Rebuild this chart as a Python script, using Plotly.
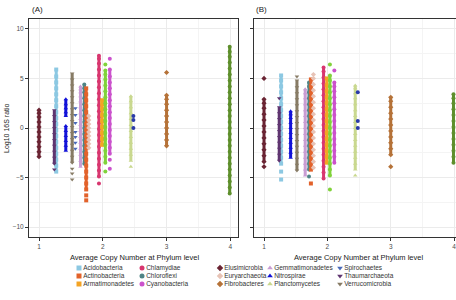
import plotly.graph_objects as go

FONT = "Liberation Sans, Arial, sans-serif"
W, H = 456, 300

# ---------------- data ----------------
phyla = ["Acidobacteria", "Actinobacteria", "Armatimonadetes", "Chlamydiae", "Chloroflexi",
         "Cyanobacteria", "Elusimicrobia", "Euryarchaeota", "Fibrobacteres", "Gemmatimonadetes",
         "Nitrospirae", "Planctomycetes", "Spirochaetes", "Thaumarchaeota", "Verrucomicrobia",
         "Other phylum 1", "Other phylum 2", "Other phylum 3"]
in_legend = [True] * 15 + [False] * 3

avg_copy = [1.27, 1.74, 1.99, 1.94, 1.71, 2.11, 1.00, 1.78, 3.00, 1.65,
            1.42, 2.44, 1.57, 1.24, 1.52, 2.04, 3.99, 2.48]

# Log10 16S ratio values, panel (A)  (None = gap between groups of points)
acido_A = [-4.4, -3.8, -3.2, -2.6, -2.0, -1.4, -0.8, -0.2, 0.4, 1.0, 1.6, 2.2, 2.8, 3.4, 4.0, 4.6, 5.2, 5.9]
actino_A = [-7.3, None, -6.8, None, -6.2, -5.6, -5.0, -4.4, -3.8, -3.2, -2.6, -2.0, -1.4, -0.8, -0.2, 0.4,
            1.0, 1.6, 2.2, 2.8, 3.4, 4.0]
armati_A = [-1.7, -1.1, -0.5, 0.1, 0.7, 1.3, 1.9, 2.4, 2.8]
chlamy_A = [-5.6, None, -4.9, -4.3, -3.7, -3.1, -2.5, -1.9, -1.3, -0.7, -0.1, 0.5, 1.1, 1.7, 2.3, 2.9, 3.5,
            4.1, 4.7, 5.3, 5.9, 6.5, 7.0, 7.3]
chloro_A = [-3.6, -3.0, -2.4, -1.8, -1.2, -0.6, 0.0, 0.6, 1.2, 1.8, 2.4, 3.0, 3.6, 4.0, 4.4]
cyano_A = [-4.1, None, -3.2, None, -2.6, -2.0, -1.4, -0.8, -0.2, 0.4, 1.0, 1.6, 2.2, 2.8, 3.4, 4.0, 4.6,
           5.2, 5.9, None, 7.0]
elusi_A = [-2.9, -2.4, -1.9, -1.4, -0.9, -0.4, 0.1, 0.6, 1.1, 1.5, 1.8]
eury_A = [-2.0, -1.6, -1.2, -0.8, -0.4, 0.0, 0.4, 0.8, 1.2]
fibro_A = [-1.8, -1.2, -0.6, 0.0, 0.6, 1.2, 1.8, 2.4, 2.9, 3.3, None, 5.6]
gemma_A = [-3.9, -3.3, -2.7, -2.1, -1.5, -0.9, -0.3, 0.3, 0.9, 1.5, 2.1, 2.7, 3.2, 3.6, 3.9, 4.2]
nitro_A = [-2.3, -1.8, -1.3, -0.8, -0.3, 0.2, None, 1.2, 1.6, 2.0, 2.4, 2.9]
plancto_A = [-3.9, None, -3.3, -2.7, -2.1, -1.5, -0.9, -0.3, 0.3, 0.9, 1.5, 2.1, 2.7, 3.2]
spiro_A = [-2.1, -1.5, -0.9, -0.4, 0.5, 1.3, 2.0]
thaum_A = [-4.2, None, -3.6, -3.0, -2.4, -1.8, -1.2, -0.6, 0.0, 0.6, 1.2, 1.8]
verruco_A = [-5.2, None, -4.6, None, -4.1, None, -3.5, -2.9, -2.3, -1.7, -1.1, -0.5, 0.1, 0.7, 1.3, 1.9,
             2.5, 3.1, 3.7, 4.3, 4.9, 5.5]
other1_A = [-4.4, None, -3.5, -2.9, -2.3, -1.7, -1.1, -0.5, 0.1, 0.7, 1.3, 1.9, 2.5, 3.1, 3.7, 4.3, 4.9,
            5.4, 5.8, None, 6.4]
other2_A = [-6.6, -6.0, -5.4, -4.8, -4.2, -3.6, -3.0, -2.4, -1.8, -1.2, -0.6, 0.0, 0.6, 1.2, 1.8, 2.4,
            3.0, 3.6, 4.2, 4.8, 5.4, 6.0, 6.6, 7.2, 7.7, 8.2]
other3_A = [0.0, 0.8, 1.2]

# Log10 16S ratio values, panel (B)
acido_B = [-5.2, None, -4.4, None, -3.6, -3.0, -2.4, -1.8, -1.2, -0.6, 0.0, 0.6, 1.2, 1.8, 2.4, 3.0, 3.6,
           4.2, 4.8, 5.3]
actino_B = [-5.6, None, -4.2, -3.6, -3.0, -2.4, -1.8, -1.2, -0.6, 0.0, 0.6, 1.2, 1.8, 2.4, 3.0, 3.6, 4.2, 4.9]
armati_B = [-3.5, -2.9, -2.3, -1.7, -1.1, -0.5, 0.1, 0.7, 1.3, 1.9, 2.5, 3.1, 3.7, 4.3, 5.0]
chlamy_B = [-5.1, -4.5, -3.9, -3.3, -2.7, -2.1, -1.5, -0.9, -0.3, 0.3, 0.9, 1.5, 2.1, 2.7, 3.3, 3.9, 4.5,
            5.1, 5.7, 6.1]
chloro_B = [-4.9, None, -4.2, -3.6, -3.0, -2.4, -1.8, -1.2, -0.6, 0.0, 0.6, 1.2, 1.8, 2.4, 3.0, 3.6, 4.2, 4.6]
cyano_B = [-3.5, -2.9, -2.3, -1.7, -1.1, -0.5, 0.1, 0.7, 1.3, 1.9, 2.5, 3.1, 3.7, 4.2, 4.6, None, 5.8]
elusi_B = [-3.9, None, -3.4, -2.8, -2.2, -1.6, -1.0, -0.4, 0.2, 0.8, 1.4, 2.0, 2.5, 2.9, None, 5.0]
eury_B = [-4.0, -3.4, -2.8, -2.2, -1.6, -1.0, -0.4, 0.2, 0.8, 1.4, 2.0, 2.6, 3.2, 3.8, 4.4, 5.0, 5.4]
fibro_B = [-3.9, None, -2.7, -2.1, -1.5, -0.9, -0.3, 0.3, 0.9, 1.5, 2.1, 2.7, 3.1]
gemma_B = [-4.8, -4.2, -3.6, -3.0, -2.4, -1.8, -1.2, -0.6, 0.0, 0.6, 1.2, 1.8, 2.4, 3.0, 3.5, 3.9]
nitro_B = [-3.0, -2.5, -2.0, -1.5, -1.0, -0.5, 0.0, 0.5, 1.0, 1.4, 1.7]
plancto_B = [-4.8, None, -4.2, -3.6, -3.0, -2.4, -1.8, -1.2, -0.6, 0.0, 0.6, 1.2, 1.8, 2.4, 3.0, 3.5, 4.0, 4.3]
spiro_B = []
thaum_B = [-3.3, -2.7, -2.1, -1.5, -0.9, -0.3, 0.3, 0.9, 1.5, 2.1, None, 3.0]
verruco_B = [-4.3, -3.7, -3.1, -2.5, -1.9, -1.3, -0.7, -0.1, 0.5, 1.1, 1.7, 2.3, 2.9, 3.5, 4.1, 4.8, None, 5.2]
other1_B = [-6.2, None, -4.8, -4.2, -3.6, -3.0, -2.4, -1.8, -1.2, -0.6, 0.0, 0.6, 1.2, 1.8, 2.4, 3.0, 3.6,
            4.2, 4.8, 5.3, None, 6.4]
other2_B = [-3.5, -2.9, -2.3, -1.7, -1.1, -0.5, 0.1, 0.7, 1.3, 1.9, 2.5, 3.0, 3.4]
other3_B = [0.0, 0.7, 3.6]

values_A = [acido_A, actino_A, armati_A, chlamy_A, chloro_A, cyano_A, elusi_A, eury_A, fibro_A, gemma_A,
            nitro_A, plancto_A, spiro_A, thaum_A, verruco_A, other1_A, other2_A, other3_A]
values_B = [acido_B, actino_B, armati_B, chlamy_B, chloro_B, cyano_B, elusi_B, eury_B, fibro_B, gemma_B,
            nitro_B, plancto_B, spiro_B, thaum_B, verruco_B, other1_B, other2_B, other3_B]

x_ticks = [1, 2, 3, 4]
y_ticks = [-10, -5, 0, 5, 10]

# ---------------- styles ----------------
colors = ["#8cc8e2", "#e2622b", "#f4a424", "#d8366f", "#4f8486", "#cb52cc", "#6a2433", "#e7c3b6",
          "#b57238", "#c99dd3", "#1212d8", "#c9d88f", "#4a6ab8", "#5f3570", "#877b65",
          "#80d23a", "#5e8f2c", "#2a3aa8"]
symbols = ["square", "square", "square", "circle", "circle", "circle", "diamond", "diamond", "diamond",
           "triangle-up", "triangle-up", "triangle-up", "triangle-down", "triangle-down", "triangle-down",
           "circle", "circle", "circle"]
sparse = {"Euryarchaeota", "Spirochaetes", "Other phylum 3"}
draw_order = [0, 13, 6, 10, 12, 14, 9, 4, 1, 7, 3, 2, 15, 5, 11, 17, 8, 16]

fig = go.Figure()

for panel, vals, xa, ya in [("A", values_A, "x", "y"), ("B", values_B, "x2", "y2")]:
    for i in draw_order:
        ys = vals[i]
        if not ys:
            continue
        xs = [avg_copy[i]] * len(ys)
        mode = "markers" if phyla[i] in sparse else "lines+markers"
        fig.add_trace(go.Scatter(
            x=xs, y=ys, mode=mode, name=phyla[i], showlegend=False,
            xaxis=xa, yaxis=ya, connectgaps=False,
            line=dict(color=colors[i], width=3),
            marker=dict(color=colors[i], symbol=symbols[i], size=4, line=dict(width=0)),
        ))

# ---------------- manual legend (5 columns x 3 rows) ----------------
col_x = [79, 142, 220, 270, 340]
row_y = [268, 276, 284]
legend_items = [i for i in range(len(phyla)) if in_legend[i]]
for k, i in enumerate(legend_items):
    c, r = divmod(k, 3)
    fig.add_trace(go.Scatter(
        x=[col_x[c]], y=[row_y[r]], mode="markers+text", text=[phyla[i]],
        textposition="middle right", showlegend=False, hoverinfo="skip",
        textfont=dict(family=FONT, size=6.5, color="#333333"),
        marker=dict(color=colors[i], symbol=symbols[i], size=5, line=dict(width=0)),
        xaxis="x3", yaxis="y3", cliponaxis=False,
    ))

# ---------------- layout ----------------
ydom = [1 - 237 / H, 1 - 19 / H]
axis_common = dict(
    showline=True, mirror=True, linecolor="#333333", linewidth=1,
    showgrid=True, gridcolor="#ebebeb", gridwidth=1, zeroline=False,
    ticks="outside", ticklen=3, tickwidth=1, tickcolor="#333333",
    tickfont=dict(family=FONT, size=6.5, color="#4d4d4d"),
    ticklabeloverflow="allow",
)
xa_common = dict(axis_common, tickvals=x_ticks,
                 minor=dict(showgrid=True, gridcolor="#f4f4f4", dtick=0.5, tick0=0.5, ticks=""))
ya_common = dict(axis_common, tickvals=y_ticks, range=[-11, 11],
                 minor=dict(showgrid=True, gridcolor="#f4f4f4", dtick=2.5, tick0=-7.5, ticks=""))

fig.update_layout(
    width=W, height=H,
    margin=dict(l=0, r=0, t=0, b=0),
    paper_bgcolor="white", plot_bgcolor="rgba(0,0,0,0)",
    font=dict(family=FONT, color="#1a1a1a"),
    xaxis=dict(xa_common, domain=[29 / W, 238 / W], range=[0.843, 4.12], anchor="y"),
    yaxis=dict(ya_common, domain=ydom, anchor="x"),
    xaxis2=dict(xa_common, domain=[254 / W, 1.0], range=[0.842, 4.03], anchor="y2"),
    yaxis2=dict(ya_common, domain=ydom, anchor="x2", showticklabels=False),
    xaxis3=dict(domain=[0, 1], range=[0, W], visible=False, fixedrange=True, anchor="y3"),
    yaxis3=dict(domain=[0, 1], range=[H, 0], visible=False, fixedrange=True, anchor="x3"),
    showlegend=False,
    annotations=[
        dict(text="(A)", x=30 / W, y=1 - 9 / H, xref="paper", yref="paper", xanchor="left",
             yanchor="middle", showarrow=False, font=dict(family=FONT, size=8, color="#1a1a1a")),
        dict(text="(B)", x=254 / W, y=1 - 9 / H, xref="paper", yref="paper", xanchor="left",
             yanchor="middle", showarrow=False, font=dict(family=FONT, size=8, color="#1a1a1a")),
        dict(text="Log10 16S ratio", x=7 / W, y=1 - 128 / H, xref="paper", yref="paper",
             textangle=-90, xanchor="center", yanchor="middle", showarrow=False,
             font=dict(family=FONT, size=7, color="#1a1a1a")),
        dict(text="Average Copy Number at Phylum level", x=134 / W, y=1 - 257 / H, xref="paper",
             yref="paper", xanchor="center", yanchor="middle", showarrow=False,
             font=dict(family=FONT, size=7.5, color="#1a1a1a")),
        dict(text="Average Copy Number at Phylum level", x=358 / W, y=1 - 257 / H, xref="paper",
             yref="paper", xanchor="center", yanchor="middle", showarrow=False,
             font=dict(family=FONT, size=7.5, color="#1a1a1a")),
    ],
)

fig.write_html("out.html")
